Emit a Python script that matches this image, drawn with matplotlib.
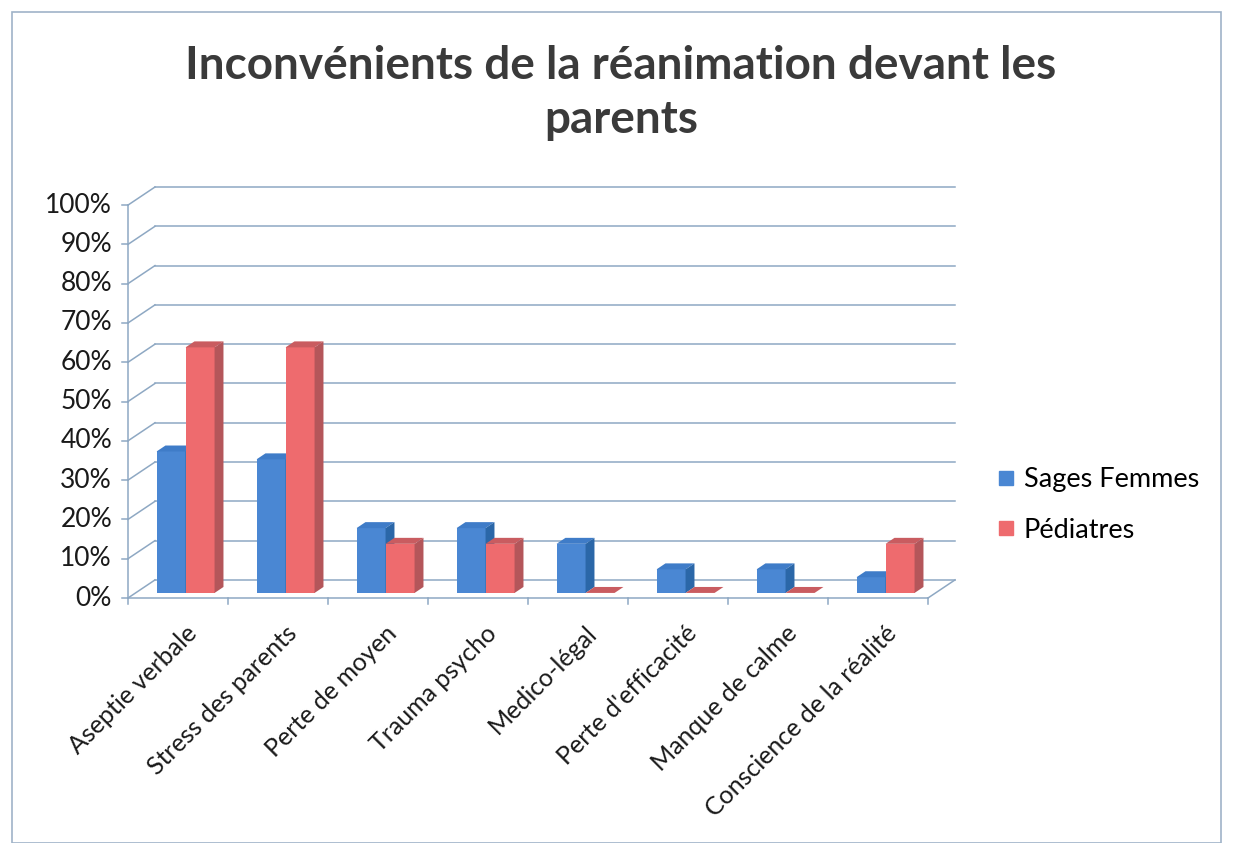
import matplotlib
matplotlib.use("Agg")
import matplotlib.pyplot as plt
from matplotlib.patches import Polygon, Rectangle
from matplotlib.lines import Line2D

plt.rcParams['font.family'] = ['Lato', 'DejaVu Sans']

categories = ["Aseptie verbale", "Stress des parents", "Perte de moyen", "Trauma psycho",
              "Medico-légal", "Perte d'efficacité", "Manque de calme", "Conscience de la réalité"]
sages_femmes = [36, 34, 16.5, 16.5, 12.5, 6, 6, 4]
pediatres = [62.5, 62.5, 12.5, 12.5, 0, 0, 0, 12.5]
series_names = ["Sages Femmes", "Pédiatres"]
yticks = list(range(0, 101, 10))
title = "Inconvénients de la réanimation devant les\nparents"

W, H = 1236, 843
fig = plt.figure(figsize=(W / 100, H / 100), dpi=100)
fig.patch.set_facecolor('white')

# chart border
fig.add_artist(Rectangle((12 / W, 0.0), (1221 - 12) / W, (H - 12) / H,
                         transform=fig.transFigure, fill=False, ec='#9fb3c8', lw=1.2))

# axes: front plane x from 128 to 928 px, y 0..100 from 598 to 207 px; depth adds 27px right, 18px up
left_px, right_px, bot_px, top_px = 128, 955, 598, 187
ax = fig.add_axes([left_px / W, (H - bot_px) / H, (right_px - left_px) / W, (bot_px - top_px) / H])
DX = 0.27
DY = 18 / 3.91
n = len(categories)
ax.set_xlim(-0.5, n - 0.5 + DX)
ax.set_ylim(0, 100 + DY)
ax.axis('off')

grid_c = '#8ea8c3'
def P(x, y, d):
    return (x + d * DX, y + d * DY)

# back wall gridlines and side wall lines
for v in yticks:
    x0, y0 = P(-0.5, v, 1)
    x1, y1 = P(n - 0.5, v, 1)
    ax.plot([x0, x1], [y0, y1], color=grid_c, lw=1.1, clip_on=False, zorder=1)
    ax.plot([-0.5, x0], [v, y0], color=grid_c, lw=1.1, clip_on=False, zorder=1)
    ax.plot([-0.5 - 0.06, -0.5], [v, v], color=grid_c, lw=1.1, clip_on=False, zorder=1)
# left axis
ax.plot([-0.5, -0.5], [0, 100], color=grid_c, lw=1.1, clip_on=False, zorder=1)
# floor front edge and right edge
ax.plot([-0.5, n - 0.5], [0, 0], color=grid_c, lw=1.1, clip_on=False, zorder=1)
xr, yr = P(n - 0.5, 0, 1)
ax.plot([n - 0.5, xr], [0, yr], color=grid_c, lw=1.1, clip_on=False, zorder=1)
for i in range(n + 1):
    ax.plot([i - 0.5, i - 0.5], [0, -1.6], color=grid_c, lw=1.1, clip_on=False, zorder=1)

# y tick labels
for v in yticks:
    ax.text(-0.5 - 0.16, v, f"{v}%", ha='right', va='center', fontsize=19, color='#1a1a1a')

# bars
f1, f2 = 0.28, 0.61
bw = 0.29
styles = [
    dict(front='#4a87d3', top='#3f7cc8', side='#2b67a8'),
    dict(front='#ee6b6e', top='#c95c60', side='#b4565a'),
]
for i in range(n):
    for s, vals in enumerate([sages_femmes, pediatres]):
        v = vals[i]
        xl = i - bw + s * bw
        xrr = xl + bw
        st = styles[s]
        fx, fy = P(0, 0, f1)
        ax.bar(xl + fx, v, width=bw, bottom=fy, align='edge', color=st['front'],
               lw=0, zorder=3 + i * 2 + s * 0.5, clip_on=False)
        top = [P(xl, v, f1), P(xrr, v, f1), P(xrr, v, f2), P(xl, v, f2)]
        ax.add_patch(Polygon(top, closed=True, fc=st['top'], ec='none',
                             zorder=3 + i * 2 + s * 0.5, clip_on=False))
        side = [P(xrr, 0, f1), P(xrr, v, f1), P(xrr, v, f2), P(xrr, 0, f2)]
        ax.add_patch(Polygon(side, closed=True, fc=st['side'], ec='none',
                             zorder=3 + i * 2 + s * 0.5, clip_on=False))

# category labels
for i, lab in enumerate(categories):
    ax.text(i + 0.15, -8.0, lab, rotation=45, rotation_mode='anchor', ha='right', va='center',
            fontsize=18, color='#1a1a1a')

# title
fig.text(621 / W, 1 - 93 / H, title, ha='center', va='center', fontsize=33, fontweight='bold',
         color='#3a3a3a', linespacing=1.38)

# legend
handles = [Line2D([], [], marker='s', ls='none', markersize=10, color=styles[k]['front'])
           for k in range(2)]
fig.legend(handles, series_names, loc='center left', bbox_to_anchor=(971 / W, 1 - 505 / H),
           frameon=False, fontsize=19.5, handletextpad=0.25, labelspacing=0.95,
           handlelength=0.8)

fig.savefig('out.png', dpi=100, facecolor='white')
